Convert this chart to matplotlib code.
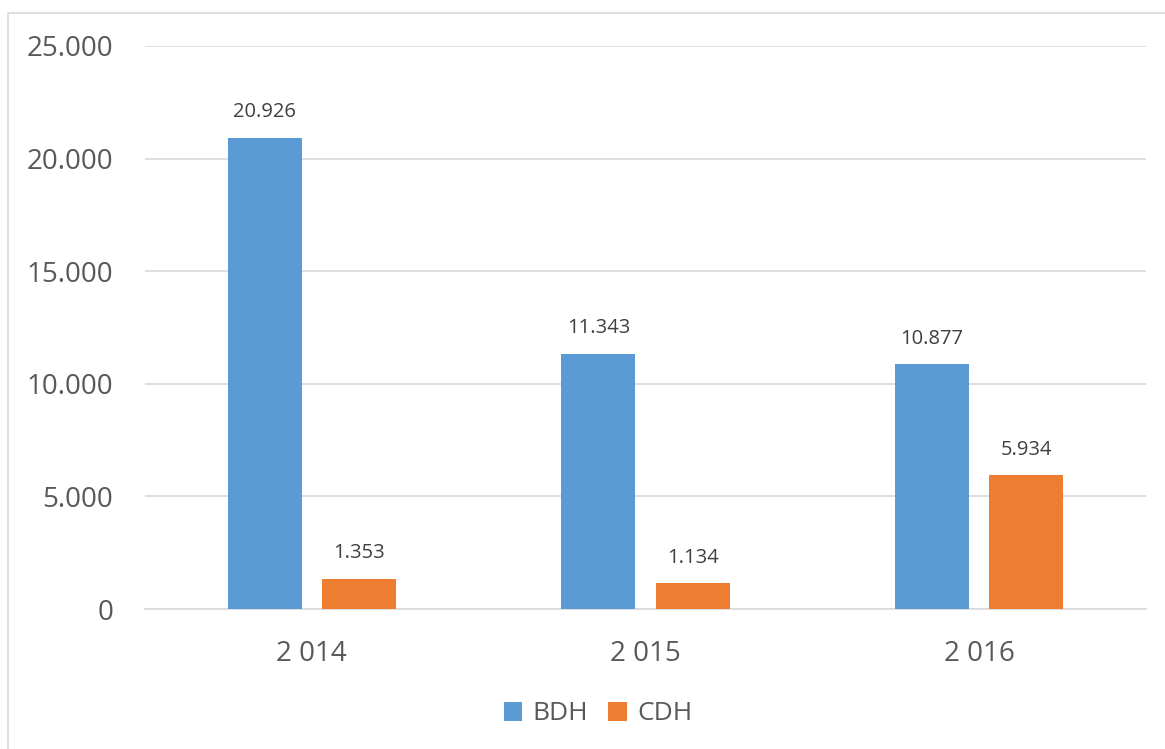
import matplotlib
matplotlib.use("Agg")
import matplotlib.pyplot as plt
from matplotlib.patches import Rectangle
from matplotlib.ticker import FuncFormatter
import numpy as np

categories = ["2 014", "2 015", "2 016"]
bdh = [20926, 11343, 10877]
cdh = [1353, 1134, 5934]
series_names = ["BDH", "CDH"]
colors = ["#5B9BD5", "#ED7D31"]

plt.rcParams['font.family'] = ['Open Sans', 'DejaVu Sans']
W, H = 1165, 749
fig = plt.figure(figsize=(W/100, H/100), dpi=100)
fig.patch.set_facecolor("white")
fig.patches.append(Rectangle((8/W, -0.1), 1.2, (H-13)/H + 0.1, transform=fig.transFigure,
                             fill=False, edgecolor="#D9D9D9", linewidth=1.2))

ax = fig.add_axes([145/W, 1-609/H, (1146-145)/W, (609-46)/H])
x = np.arange(len(categories))
bw = 0.222
off = 0.141
b1 = ax.bar(x - off, bdh, bw, color=colors[0], label=series_names[0], zorder=3)
b2 = ax.bar(x + off, cdh, bw, color=colors[1], label=series_names[1], zorder=3)

def fmt(v):
    return f"{int(v):,}".replace(",", ".")

for bars, vals in ((b1, bdh), (b2, cdh)):
    for r, v in zip(bars, vals):
        ax.annotate(fmt(v), (r.get_x() + r.get_width()/2, v), xytext=(0, 11),
                    textcoords="offset points", ha="center", va="bottom",
                    fontsize=14.5, color="#404040")

ax.set_xlim(-0.5, 2.5)
ax.set_ylim(0, 25000)
ax.set_yticks(range(0, 25001, 5000))
ax.yaxis.set_major_formatter(FuncFormatter(lambda v, p: fmt(v)))
ax.set_xticks(x)
ax.set_xticklabels(categories)
ax.grid(axis="y", color="#D9D9D9", linewidth=1.2, zorder=0)
for s in ["top", "right", "left"]:
    ax.spines[s].set_visible(False)
ax.spines["bottom"].set_color("#D9D9D9")
ax.spines["bottom"].set_linewidth(1.2)
ax.tick_params(axis="both", length=0, labelsize=20, colors="#595959")
ax.tick_params(axis="y", pad=23)
ax.tick_params(axis="x", pad=22)

leg = fig.legend(loc="center", bbox_to_anchor=(598/W, 1-714/H), ncol=2, frameon=False,
                 fontsize=19, handlelength=0.7, handleheight=0.7, handletextpad=0.4,
                 columnspacing=0.75, labelcolor="#595959")

fig.savefig("out.png", dpi=100)
